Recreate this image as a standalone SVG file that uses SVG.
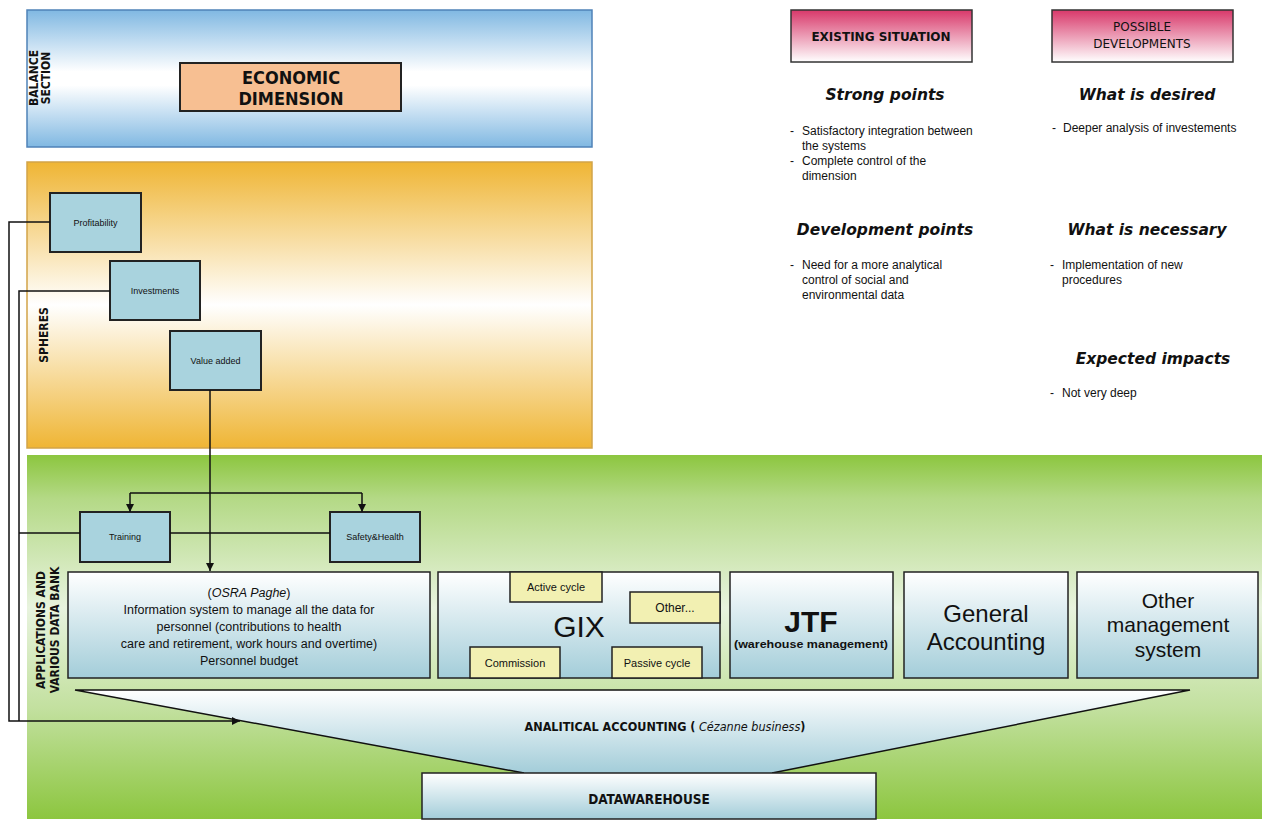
<svg xmlns="http://www.w3.org/2000/svg" width="1262" height="820" viewBox="0 0 1262 820">
<defs>
<linearGradient id="gBlue" x1="0" y1="0" x2="0" y2="1">
<stop offset="0" stop-color="#80b8e2"/><stop offset="0.45" stop-color="#ffffff"/><stop offset="0.55" stop-color="#ffffff"/><stop offset="1" stop-color="#80b8e2"/>
</linearGradient>
<linearGradient id="gOrange" x1="0" y1="0" x2="0" y2="1">
<stop offset="0" stop-color="#efb534"/><stop offset="0.5" stop-color="#ffffff"/><stop offset="1" stop-color="#efb534"/>
</linearGradient>
<linearGradient id="gGreen" x1="0" y1="0" x2="0" y2="1">
<stop offset="0" stop-color="#8cc63f"/><stop offset="0.12" stop-color="#b4d986"/><stop offset="0.42" stop-color="#e8f3de"/><stop offset="0.7" stop-color="#c2e09e"/><stop offset="1" stop-color="#8cc63f"/>
</linearGradient>
<linearGradient id="gBox" x1="0" y1="0" x2="0" y2="1">
<stop offset="0" stop-color="#ffffff"/><stop offset="1" stop-color="#a3cdd9"/>
</linearGradient>
<linearGradient id="gPink" x1="0" y1="0" x2="0" y2="1">
<stop offset="0" stop-color="#d8386a"/><stop offset="1" stop-color="#ffffff"/>
</linearGradient>
<marker id="arr" viewBox="0 0 10 10" refX="10" refY="5" markerWidth="8" markerHeight="8" markerUnits="userSpaceOnUse" orient="auto">
<path d="M0,0 L10,5 L0,10 z" fill="#111"/>
</marker>
<style>
.band{stroke-width:1.5}
.sph{fill:#a9d3de;stroke:#222;stroke-width:2}
.app{fill:url(#gBox);stroke:#222;stroke-width:1.5}
.yel{fill:#f2f0b2;stroke:#222;stroke-width:1.5}
.hdr{fill:url(#gPink);stroke:#333;stroke-width:1.5}
.cn{font-family:"DejaVu Sans Condensed","DejaVu Sans",sans-serif;font-weight:bold;fill:#111}
.dv{font-family:"DejaVu Sans",sans-serif;fill:#111}
.lab{font-family:"DejaVu Sans Condensed","DejaVu Sans",sans-serif;font-weight:bold;fill:#111;font-size:12px}
.sm{font-family:"Liberation Sans",Arial,sans-serif;fill:#111}
.hd{font-family:"DejaVu Sans","Liberation Sans",sans-serif;font-weight:bold;font-style:italic;font-size:15.5px;fill:#111}
.bl{font-family:"Liberation Sans",Arial,sans-serif;font-size:12px;fill:#111}
.ln{fill:none;stroke:#111;stroke-width:1.5}
</style>
</defs>

<g id="bands">
<rect x="27" y="10" width="565" height="137" fill="url(#gBlue)" stroke="#4f82b8" class="band"/>
<rect x="27" y="162" width="565" height="286" fill="url(#gOrange)" stroke="#d2a448" class="band"/>
<rect x="27" y="455" width="1235" height="364" fill="url(#gGreen)" stroke="none"/>
<text class="lab" font-size="11" transform="translate(38,78) rotate(-90)" text-anchor="middle">BALANCE</text>
<text class="lab" font-size="11" transform="translate(50,78) rotate(-90)" text-anchor="middle">SECTION</text>
<text class="lab" transform="translate(48,335) rotate(-90)" text-anchor="middle">SPHERES</text>
<text class="lab" transform="translate(45,630) rotate(-90)" text-anchor="middle">APPLICATIONS AND</text>
<text class="lab" transform="translate(59,630) rotate(-90)" text-anchor="middle">VARIOUS DATA BANK</text>
</g>

<g id="economic">
<rect x="180" y="63" width="221" height="48" fill="#f7bf92" stroke="#222" stroke-width="2"/>
<text class="cn" font-size="18" x="291" y="84" text-anchor="middle">ECONOMIC</text>
<text class="cn" font-size="18" x="291" y="105" text-anchor="middle">DIMENSION</text>
</g>

<g id="funnel">
<path d="M75,690 L1190,690 L772,773 L524,773 Z" fill="url(#gBox)" stroke="none"/>
<path d="M524,773 L75,690 L1190,690 L772,773" class="ln" stroke-width="2"/>
<text x="665" y="731" text-anchor="middle" class="cn" font-size="12.5">ANALITICAL ACCOUNTING (<tspan font-style="italic" font-weight="normal"> Cézanne business</tspan>)</text>
</g>

<g id="datawarehouse">
<rect x="422" y="773" width="454" height="46" class="app"/>
<text x="649" y="804" text-anchor="middle" class="cn" font-size="13.5">DATAWAREHOUSE</text>
</g>

<g id="profitability">
<rect x="50" y="193" width="91" height="59" class="sph"/>
<text x="95.5" y="226" text-anchor="middle" class="sm" font-size="9">Profitability</text>
</g>
<g id="investments">
<rect x="110" y="261" width="90" height="59" class="sph"/>
<text x="155" y="294" text-anchor="middle" class="sm" font-size="9">Investments</text>
</g>
<g id="valueadded">
<rect x="170" y="331" width="91" height="59" class="sph"/>
<text x="215.5" y="364" text-anchor="middle" class="sm" font-size="9">Value added</text>
</g>
<g id="training">
<rect x="80" y="512" width="90" height="50" class="sph"/>
<text x="125" y="540" text-anchor="middle" class="sm" font-size="9">Training</text>
</g>
<g id="safety">
<rect x="330" y="512" width="90" height="50" class="sph"/>
<text x="375" y="540" text-anchor="middle" class="sm" font-size="9">Safety&amp;Health</text>
</g>

<g id="osra">
<rect x="68" y="572" width="362" height="106" class="app"/>
<g class="sm" font-size="12.5" text-anchor="middle">
<text x="249" y="597">(<tspan font-style="italic">OSRA Paghe</tspan>)</text>
<text x="249" y="614">Information system to manage all the data for</text>
<text x="249" y="631">personnel (contributions to health</text>
<text x="249" y="648">care and retirement, work hours and overtime)</text>
<text x="249" y="665">Personnel budget</text>
</g>
</g>

<g id="gix">
<rect x="438" y="572" width="282" height="106" class="app"/>
<text x="579" y="637" text-anchor="middle" class="sm" font-size="30">GIX</text>
<rect x="510" y="572" width="92" height="30" class="yel"/>
<text x="556" y="591" text-anchor="middle" class="sm" font-size="11">Active cycle</text>
<rect x="630" y="592" width="90" height="31" class="yel"/>
<text x="675" y="612" text-anchor="middle" class="sm" font-size="12">Other...</text>
<rect x="470" y="647" width="90" height="31" class="yel"/>
<text x="515" y="667" text-anchor="middle" class="sm" font-size="11">Commission</text>
<rect x="612" y="647" width="90" height="31" class="yel"/>
<text x="657" y="667" text-anchor="middle" class="sm" font-size="11">Passive cycle</text>
</g>

<g id="jtf">
<rect x="730" y="572" width="163" height="106" class="app"/>
<text x="811" y="632" text-anchor="middle" class="sm" font-size="30" font-weight="bold">JTF</text>
<text x="811" y="648" text-anchor="middle" class="sm" font-size="11" font-weight="bold" textLength="154" lengthAdjust="spacingAndGlyphs">(warehouse management)</text>
</g>

<g id="general">
<rect x="904" y="572" width="164" height="106" class="app"/>
<text x="986" y="622" text-anchor="middle" class="sm" font-size="24">General</text>
<text x="986" y="650" text-anchor="middle" class="sm" font-size="24">Accounting</text>
</g>

<g id="othermgmt">
<rect x="1077" y="572" width="181" height="106" class="app"/>
<text x="1168" y="608" text-anchor="middle" class="sm" font-size="21">Other</text>
<text x="1168" y="632" text-anchor="middle" class="sm" font-size="21">management</text>
<text x="1168" y="657" text-anchor="middle" class="sm" font-size="21">system</text>
</g>

<g id="existing">
<rect x="791" y="10" width="181" height="52" class="hdr"/>
<text x="881" y="41" text-anchor="middle" class="dv" font-weight="bold" font-size="12">EXISTING SITUATION</text>
</g>
<g id="possible">
<rect x="1052" y="10" width="181" height="52" class="hdr"/>
<text x="1142" y="31" text-anchor="middle" class="dv" font-size="12">POSSIBLE</text>
<text x="1142" y="48" text-anchor="middle" class="dv" font-size="12">DEVELOPMENTS</text>
</g>

<g id="notes">
<text class="hd" x="885" y="100" text-anchor="middle">Strong points</text>
<text class="hd" x="1147" y="100" text-anchor="middle">What is desired</text>
<text class="hd" x="885" y="235" text-anchor="middle">Development points</text>
<text class="hd" x="1147" y="235" text-anchor="middle">What is necessary</text>
<text class="hd" x="1153" y="364" text-anchor="middle">Expected impacts</text>
<g class="bl">
<text x="790" y="135">-</text><text x="802" y="135">Satisfactory integration between</text>
<text x="802" y="150">the systems</text>
<text x="790" y="165">-</text><text x="802" y="165">Complete control of the</text>
<text x="802" y="180">dimension</text>
<text x="1052" y="132">-</text><text x="1063" y="132">Deeper analysis of investements</text>
<text x="790" y="269">-</text><text x="802" y="269">Need for a more analytical</text>
<text x="802" y="284">control of social and</text>
<text x="802" y="299">environmental data</text>
<text x="1050" y="269">-</text><text x="1062" y="269">Implementation of new</text>
<text x="1062" y="284">procedures</text>
<text x="1050" y="397">-</text><text x="1062" y="397">Not very deep</text>
</g>
</g>

<g id="connectors">
<path d="M50,222 H9 V721 H240" class="ln" marker-end="url(#arr)"/>
<path d="M110,291 H19 V721" class="ln"/>
<path d="M19,533 H80 M170,533 H330" class="ln"/>
<path d="M210,390 V571" class="ln" marker-end="url(#arr)"/>
<path d="M130,493 H362" class="ln"/>
<path d="M130,493 V512" class="ln" marker-end="url(#arr)"/>
<path d="M362,493 V512" class="ln" marker-end="url(#arr)"/>
</g>
</svg>
